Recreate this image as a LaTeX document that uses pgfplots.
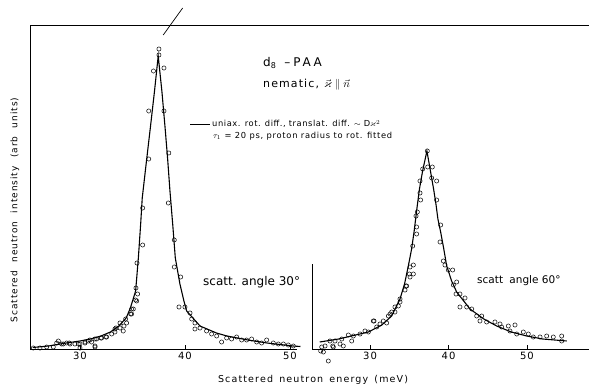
\documentclass[border=0pt]{standalone}
\usepackage{amssymb}
\usepackage{fontspec}
\setmainfont{DejaVu Sans}
\newfontfamily\lblfont[LetterSpace=12]{DejaVu Sans}
\newfontfamily\ylblfont[LetterSpace=11]{DejaVu Sans}
\newfontfamily\ttlfont[LetterSpace=22]{DejaVu Sans}
\newfontfamily\nemfont[LetterSpace=10]{DejaVu Sans}
\newfontfamily\legAfont[LetterSpace=7]{DejaVu Sans}
\newfontfamily\legBfont[LetterSpace=9]{DejaVu Sans}
\newfontfamily\tickfont[LetterSpace=10]{DejaVu Sans}
\usepackage{pgfplots}
\pgfplotsset{compat=1.18}
\usepackage{pgfplotstable}

\pgfplotstableread{
E I
37.52 300
37.52 294
37.00 278
38.00 281
36.55 238
38.00 238
36.55 190
38.46 196
35.97 141
38.41 146
35.97 104
38.98 109
35.43 86
38.98 82
39.59 72
35.33 61
35.49 55
35.30 49
35.40 48
34.92 40
35.08 40
34.83 35
34.92 35
34.35 30
34.44 26
33.81 26
34.19 23
33.43 21
33.81 21
33.33 20
34.12 18
33.33 17
33.02 15
32.48 12
32.54 12
32.06 11
32.00 11
31.59 10
31.43 10
30.95 9
30.79 8
31.10 7
30.48 7
30.48 6
30.00 5
29.84 5
29.52 5
29.05 5
28.98 6
28.73 6
28.41 5
28.25 5
27.94 8
27.78 6
27.46 2
26.83 2
26.19 1
25.55 1
31.43 2
31.43 3
30.00 1
39.43 42
40.00 42
40.48 36
40.64 30
40.95 26
40.95 20
41.43 21
42.06 18
42.54 15
43.02 13
43.49 7
43.97 11
44.44 10
44.92 12
45.40 9
45.87 9
46.35 10
46.83 7
47.30 6
47.78 9
48.41 6
48.89 5
49.37 5
49.84 4
50.32 3
}\leftdata

\pgfplotstableread{
E I
25.5 1.5
27 3
28.7 6
30 8
31 10
32 13
32.9 17
33.7 23
34.4 31
34.8 41
35.3 58
35.56 91
35.78 125
35.93 151
36.3 185
36.71 222
37.1 258
37.45 293
37.8 258
38.1 222
38.35 190
38.57 158
38.83 125
39.08 91
39.52 65
39.9 48
40.16 38
41.43 23
43 16
44 13
46 9
47.8 6
50.3 3
51 2.5
}\leftfit

\pgfplotstableread{
E I
37.30 198
36.71 180
37.35 182
37.94 182
36.37 168
37.86 171
38.49 168
36.37 156
36.45 149
38.49 149
36.03 137
35.86 133
35.94 122
39.00 124
38.92 107
35.44 103
35.94 115
39.34 88
39.55 84
39.97 79
40.53 79
35.10 82
35.52 84
35.52 75
35.01 75
35.10 72
34.59 63
34.46 59
34.67 63
41.04 67
40.62 64
41.46 55
42.10 51
40.96 55
41.46 42
42.32 42
42.96 40
43.59 33
44.23 33
44.01 28
44.86 27
45.92 27
46.56 25
47.62 23
48.47 24
48.69 15
49.53 17
50.17 15
50.80 12
51.66 12
52.51 13
53.35 12
54.42 13
54.42 8
46.77 22
47.83 18
33.82 47
33.82 50
33.61 43
33.18 37
33.18 42
32.76 37
32.55 35
32.34 33
32.12 26
31.27 25
30.51 28
30.42 28
30.85 22
29.79 17
29.36 18
31.69 28
28.73 15
27.88 13
27.24 14
27.67 8
26.40 10
26.60 3
26.18 5
25.54 8
25.33 2
25.25 3
24.90 8
24.27 3
23.85 2
24.06 -3
24.69 -12
23.72 -2
}\rightdata

\pgfplotstableread{
E I
23.6 7
26 10
29.8 17
31.5 24
32.76 33
33.82 50
34.4 65
34.88 83
35.3 100
35.61 117
36.0 142
36.3 160
36.7 178
37.25 198
37.7 178
38.1 160
38.4 145
38.65 130
39.0 117
39.4 100
39.77 83
40.4 68
41.04 57
42.74 40
44.5 30
46.14 23
48 17
49.96 13
52 10
55.06 8
}\rightfit

\pgfplotsset{
  panel/.style={
    scale only axis, height=324pt, ymin=0, ymax=324,
    axis x line*=bottom, axis line style={-, line width=0.8pt},
    xtick={30,40,50}, ytick=\empty, tick align=inside,
    major tick length=4pt, tick style={line width=0.7pt, black},
    clip=false,
    /pgf/number format/assume math mode=true,
    ticklabel style={font=\tickfont\fontsize{10}{12}\selectfont},
    anchor=south west,
  },
  pts/.style={only marks, mark=o, mark size=2.1pt, mark options={line width=0.5pt, black}},
  fit/.style={no marks, black, line width=1.1pt},
}

\begin{document}
\begin{tikzpicture}
\path[use as bounding box] (0,0) rectangle (589pt,386pt);
\begin{axis}[panel, name=L, at={(30pt,37pt)}, width=267pt,
  xmin=25.24, xmax=50.67, axis y line*=left]
  \addplot[pts] table[x=E,y=I] {\leftdata};
  \addplot[fit] table[x=E,y=I] {\leftfit};
  \draw[line width=0.7pt] (axis cs:37.93,314) -- (axis cs:39.78,341);
\end{axis}
\begin{axis}[panel, name=R, at={(312pt,37pt)}, width=277pt,
  xmin=22.61, xmax=57.9, axis y line=none]
  \addplot[pts] table[x=E,y=I] {\rightdata};
  \addplot[fit] table[x=E,y=I] {\rightfit};
  \draw[line width=0.8pt] (axis cs:22.61,0) -- (axis cs:22.61,85);
\end{axis}
\draw[line width=0.8pt] (L.north west) -- (589pt,361pt);
\node[anchor=west, inner sep=0pt, font=\ttlfont\fontsize{12}{14}\selectfont] at (263pt,323pt) {d\textsubscript{8}\hspace{8pt}–\hspace{3pt}PAA};
\node[anchor=west, inner sep=0pt, font=\nemfont\fontsize{11}{13}\selectfont] at (263pt,301pt) {nematic,\hspace{5pt}$\vec{\varkappa}\mskip5mu{\parallel}\mskip5mu\vec{n}$};
\draw[line width=0.8pt] (190pt,262pt) -- (210pt,262pt);
\node[anchor=west, inner sep=0pt, font=\legAfont\fontsize{8.3}{9}\selectfont] at (212pt,262pt) {\makebox[168pt][s]{uniax. rot. diff., translat. diff. $\sim$ D$\varkappa^2$}};
\node[anchor=west, inner sep=0pt, font=\legBfont\fontsize{8.3}{9}\selectfont] at (213pt,250pt) {\makebox[179pt][s]{$\tau_1$ = 20 ps, proton radius to rot. fitted}};
\node[anchor=west, inner sep=0pt, font=\fontsize{12}{14}\selectfont] at (203pt,104pt) {scatt. angle 30°};
\node[anchor=west, inner sep=0pt, font=\fontsize{10.5}{13}\selectfont] at (477pt,105pt) {scatt\hspace{3pt} angle 60°};
\node[rotate=90, inner sep=0pt, font=\ylblfont\fontsize{9}{11}\selectfont] at (15pt,176pt) {\makebox[225pt][s]{Scattered neutron intensity (arb units)}};
\node[inner sep=0pt, font=\lblfont\fontsize{9.5}{11}\selectfont] at (313pt,6pt) {\makebox[190pt][s]{Scattered neutron energy (meV)}};
\end{tikzpicture}
\end{document}
